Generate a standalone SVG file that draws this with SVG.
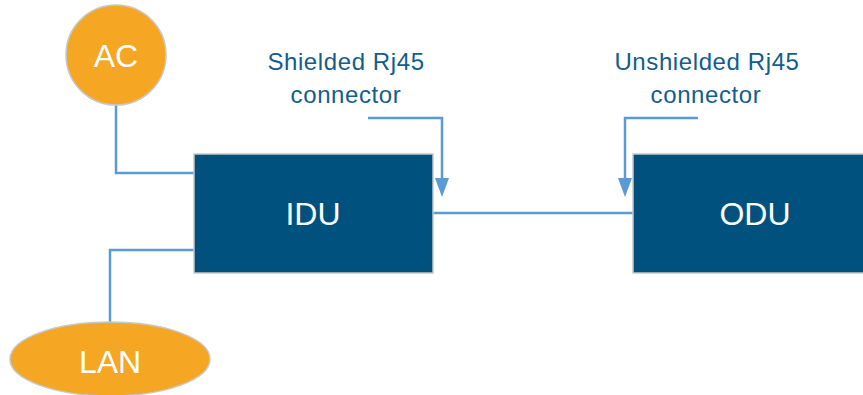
<svg xmlns="http://www.w3.org/2000/svg" width="863" height="395" viewBox="0 0 863 395">
<style>
.box{fill:#00517e;stroke:#c8c8c8;stroke-width:1.5}
.oval{fill:#f5a623;stroke:#c8c8c8;stroke-width:1.5}
.wt{fill:#ffffff;font-family:"Liberation Sans",Arial,sans-serif;font-size:32px;text-anchor:middle}
.lbl{fill:#135d8c;font-family:"Liberation Sans",Arial,sans-serif;font-size:24px;letter-spacing:0.6px;text-anchor:middle}
.con{fill:none;stroke:#5b9bd5;stroke-width:2.5}
.arr{fill:#5b9bd5}
</style>
<rect width="863" height="395" fill="#ffffff"/>
<g id="connectors">
<polyline class="con" points="116,105 116,173 194,173"/>
<polyline class="con" points="194,250 110,250 110,322"/>
<line class="con" x1="433" y1="213" x2="633" y2="213"/>
<polyline class="con" points="368,118 442,118 442,180"/>
<polygon class="arr" points="435,178 449,178 442,197"/>
<polyline class="con" points="698,118 625,118 625,180"/>
<polygon class="arr" points="618,178 632,178 625,197"/>
</g>
<g id="ac">
<circle class="oval" cx="116" cy="55" r="50"/>
<text class="wt" x="116" y="67">AC</text>
</g>
<g id="lan">
<ellipse class="oval" cx="110" cy="359" rx="100" ry="37"/>
<text class="wt" x="110" y="373">LAN</text>
</g>
<g id="idu">
<rect class="box" x="194" y="154" width="239" height="119"/>
<text class="wt" x="313" y="225">IDU</text>
</g>
<g id="odu">
<rect class="box" x="633" y="154" width="240" height="119"/>
<text class="wt" x="755" y="225">ODU</text>
</g>
<g id="shielded-label">
<text class="lbl" x="346" y="70">Shielded Rj45</text>
<text class="lbl" x="346" y="103">connector</text>
</g>
<g id="unshielded-label">
<text class="lbl" x="707" y="70">Unshielded Rj45</text>
<text class="lbl" x="706" y="103">connector</text>
</g>
</svg>
